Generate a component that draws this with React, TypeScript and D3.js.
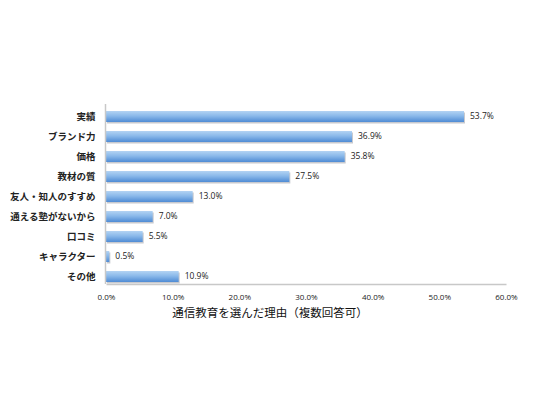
import { useEffect, useRef } from "react";
import * as d3 from "d3";

const width = 535;
const height = 401;

const margin = { top: 104, right: 29, bottom: 117, left: 106 };

const categories = [
  "実績",
  "ブランド力",
  "価格",
  "教材の質",
  "友人・知人のすすめ",
  "通える塾がないから",
  "口コミ",
  "キャラクター",
  "その他",
];

const values = [53.7, 36.9, 35.8, 27.5, 13.0, 7.0, 5.5, 0.5, 10.9];

const xTicks = [0, 10, 20, 30, 40, 50, 60];

const axisTitle = "通信教育を選んだ理由（複数回答可）";

type Row = { name: string; value: number };

const rows: Row[] = categories.map((name, i) => ({ name, value: values[i] }));

export default function App() {
  const svgRef = useRef<SVGSVGElement | null>(null);

  useEffect(() => {
    if (!svgRef.current) return;
    const svg = d3.select(svgRef.current);

    const x = d3
      .scaleLinear()
      .domain([0, 60])
      .range([margin.left, width - margin.right]);

    // バーは軸の枠より少し下寄り
    const y = d3
      .scaleBand()
      .domain(categories)
      .range([margin.top + 2.5, height - margin.bottom + 2.5])
      .paddingInner(0.45)
      .paddingOuter(0.225);

    // バーの影
    svg
      .select<SVGGElement>(".shadows")
      .selectAll("rect")
      .data(rows)
      .join("rect")
      .attr("x", x(0) + 1)
      .attr("y", (d) => (y(d.name) ?? 0) + 1.5)
      .attr("width", (d) => x(d.value) - x(0))
      .attr("height", y.bandwidth())
      .attr("fill", "#b9bcc2")
      .attr("opacity", 0.8);

    // バー
    svg
      .select<SVGGElement>(".bars")
      .selectAll("rect")
      .data(rows)
      .join("rect")
      .attr("x", x(0))
      .attr("y", (d) => y(d.name) ?? 0)
      .attr("width", (d) => x(d.value) - x(0))
      .attr("height", y.bandwidth())
      .attr("fill", "url(#barGrad)");

    // 値ラベル
    svg
      .select<SVGGElement>(".values")
      .selectAll("text")
      .data(rows)
      .join("text")
      .attr("x", (d) => x(d.value) + 6)
      .attr("y", (d) => (y(d.name) ?? 0) + y.bandwidth() / 2)
      .attr("dy", "0.35em")
      .attr("fill", "#222")
      .style("font-family", "'Open Sans', 'Liberation Sans', sans-serif")
      .style("font-size", "8.5px")
      .text((d) => `${d.value.toFixed(1)}%`);

    // y 軸
    const yAxis = svg
      .select<SVGGElement>(".y-axis")
      .attr("transform", `translate(${margin.left - 0.5},0)`)
      .call(d3.axisLeft(y).tickSize(0).tickPadding(10));
    yAxis.select(".domain").remove();
    yAxis
      .selectAll("text")
      .attr("fill", "#222")
      .style("font-family", "'Noto Sans CJK JP', sans-serif")
      .style("font-size", "9.5px")
      .style("font-weight", "700");

    svg
      .select<SVGLineElement>(".y-line")
      .attr("x1", margin.left - 0.5)
      .attr("x2", margin.left - 0.5)
      .attr("y1", margin.top)
      .attr("y2", height - margin.bottom)
      .attr("stroke", "#c8c8c8")
      .attr("stroke-width", 1.5);

    // x 軸
    const xAxis = svg
      .select<SVGGElement>(".x-axis")
      .attr("transform", `translate(0,${height - margin.bottom})`)
      .call(
        d3
          .axisBottom(x)
          .tickValues(xTicks)
          .tickSize(0)
          .tickPadding(10)
          .tickFormat((d) => `${(+d).toFixed(1)}%`),
      );
    xAxis.select(".domain").attr("stroke", "#c8c8c8").attr("stroke-width", 1.5);
    xAxis
      .selectAll("text")
      .attr("fill", "#222")
      .style("font-family", "'Open Sans', 'Liberation Sans', sans-serif")
      .style("font-size", "8px");

    // 軸タイトル
    svg
      .select<SVGTextElement>(".x-title")
      .attr("x", 270)
      .attr("y", 317)
      .attr("text-anchor", "middle")
      .attr("fill", "#111")
      .style("font-family", "'Noto Sans CJK JP', sans-serif")
      .style("font-size", "11.5px")
      .text(axisTitle);
  }, []);

  return (
    <svg
      ref={svgRef}
      width={width}
      height={height}
      style={{ position: "absolute", left: 0, top: 0, background: "#fff" }}
    >
      <defs>
        <linearGradient id="barGrad" x1="0" y1="0" x2="0" y2="1">
          <stop offset="0%" stopColor="#b3d3f3" />
          <stop offset="45%" stopColor="#8ab9ea" />
          <stop offset="100%" stopColor="#4f8bd4" />
        </linearGradient>
      </defs>
      <g className="shadows" />
      <g className="bars" />
      <g className="values" />
      <line className="y-line" />
      <g className="y-axis" />
      <g className="x-axis" />
      <text className="x-title" />
    </svg>
  );
}
